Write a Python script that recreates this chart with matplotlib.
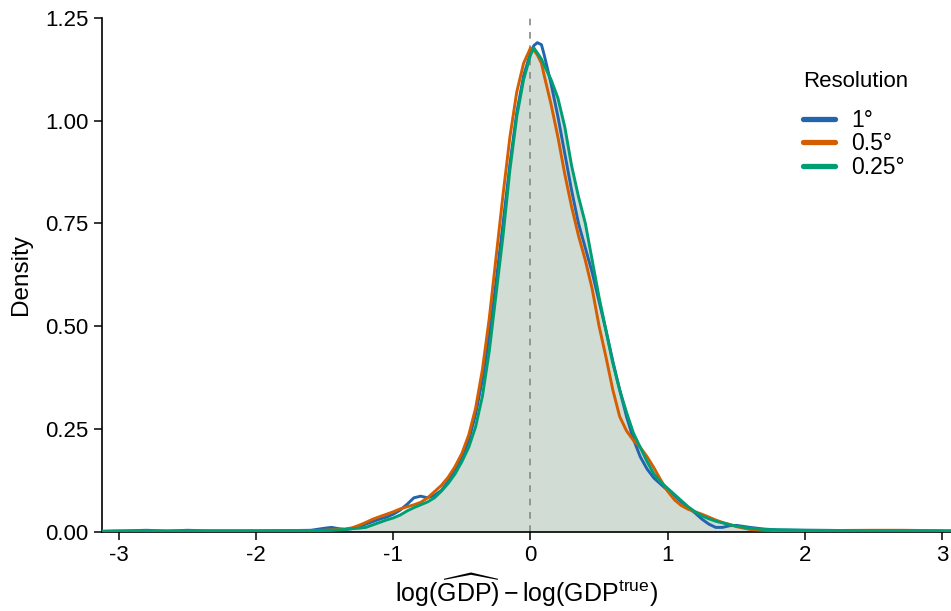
import matplotlib
matplotlib.use("Agg")
import matplotlib.pyplot as plt

# ---- data ----
x_grid = [-3.2, -3.0, -2.8, -2.65, -2.5, -2.3, -2.0, -1.8, -1.6, -1.5, -1.45, -1.4, -1.35,
          -1.3, -1.25, -1.2, -1.15, -1.1, -1.05, -1.0, -0.95, -0.9, -0.85, -0.8, -0.75,
          -0.7, -0.65, -0.6, -0.55, -0.5, -0.45, -0.4, -0.35, -0.3, -0.25, -0.2, -0.15,
          -0.1, -0.05, 0.0, 0.025, 0.05, 0.08, 0.1, 0.15, 0.2, 0.25, 0.3, 0.35, 0.4, 0.45,
          0.5, 0.55, 0.6, 0.65, 0.7, 0.75, 0.8, 0.85, 0.9, 0.95, 1.0, 1.05, 1.1, 1.15,
          1.2, 1.25, 1.3, 1.35, 1.4, 1.45, 1.5, 1.6, 1.7, 1.8, 2.0, 2.5, 2.7, 3.0, 3.2]

dens_1deg = [0.000, 0.001, 0.003, 0.001, 0.003, 0.001, 0.001, 0.002, 0.003, 0.008, 0.010, 0.007, 0.005,
             0.007, 0.011, 0.018, 0.024, 0.030, 0.035, 0.042, 0.052, 0.066, 0.082, 0.086, 0.082,
             0.088, 0.100, 0.122, 0.148, 0.180, 0.222, 0.285, 0.370, 0.480, 0.610, 0.750, 0.895,
             1.020, 1.110, 1.165, 1.183, 1.190, 1.185, 1.160, 1.090, 1.010, 0.920, 0.830, 0.750, 0.690, 0.630,
             0.560, 0.490, 0.415, 0.345, 0.280, 0.225, 0.182, 0.152, 0.130, 0.115, 0.100, 0.087, 0.072, 0.058,
             0.045, 0.030, 0.018, 0.010, 0.010, 0.014, 0.015, 0.010, 0.006, 0.004, 0.003, 0.002, 0.002, 0.001, 0.001]

dens_05deg = [0.000, 0.001, 0.001, 0.001, 0.001, 0.002, 0.002, 0.002, 0.002, 0.003, 0.004, 0.005, 0.006,
              0.009, 0.015, 0.022, 0.030, 0.036, 0.042, 0.048, 0.055, 0.060, 0.065, 0.071, 0.082,
              0.097, 0.112, 0.132, 0.158, 0.190, 0.235, 0.300, 0.395, 0.520, 0.670, 0.820, 0.960,
              1.070, 1.140, 1.177, 1.172, 1.160, 1.140, 1.110, 1.040, 0.960, 0.870, 0.790, 0.720, 0.660, 0.590,
              0.500, 0.425, 0.345, 0.280, 0.245, 0.222, 0.205, 0.182, 0.155, 0.125, 0.098, 0.077, 0.063, 0.054,
              0.048, 0.042, 0.035, 0.028, 0.022, 0.017, 0.012, 0.005, 0.003, 0.002, 0.002, 0.003, 0.003, 0.002, 0.001]

dens_025deg = [0.000, 0.001, 0.001, 0.001, 0.001, 0.001, 0.001, 0.002, 0.002, 0.003, 0.003, 0.004, 0.005,
               0.007, 0.008, 0.010, 0.016, 0.022, 0.028, 0.033, 0.040, 0.050, 0.058, 0.065, 0.072,
               0.082, 0.098, 0.117, 0.140, 0.170, 0.205, 0.255, 0.330, 0.440, 0.580, 0.720, 0.880,
               1.010, 1.100, 1.160, 1.177, 1.165, 1.150, 1.135, 1.100, 1.055, 0.985, 0.890, 0.815, 0.750, 0.660,
               0.570, 0.490, 0.410, 0.345, 0.290, 0.240, 0.205, 0.170, 0.140, 0.120, 0.105, 0.090, 0.075, 0.060,
               0.048, 0.038, 0.031, 0.025, 0.021, 0.017, 0.013, 0.008, 0.005, 0.004, 0.003, 0.002, 0.002, 0.001, 0.001]

series_labels = ["1°", "0.5°", "0.25°"]
series_colors = ["#2364ae", "#d55e00", "#009e73"]
x_ticks = [-3, -2, -1, 0, 1, 2, 3]
y_ticks = [0.00, 0.25, 0.50, 0.75, 1.00, 1.25]

# ---- styling ----
plt.rcParams['font.family'] = ['Liberation Sans', 'DejaVu Sans']
plt.rcParams['mathtext.fontset'] = 'custom'
plt.rcParams['mathtext.rm'] = 'Liberation Sans'
plt.rcParams['mathtext.it'] = 'Liberation Sans:italic'

W, H = 951, 611
fig = plt.figure(figsize=(W / 100, H / 100), dpi=100)
ax = fig.add_axes([102 / W, 79.5 / H, (W - 102) / W, 513.5 / H])

ax.fill_between(x_grid, dens_025deg, 0, color="#d0dcd4", linewidth=0, zorder=1)
ax.axvline(0, color="#888888", linestyle=(0, (4, 4)), linewidth=1.2, zorder=2)

for dens, lab, col in zip([dens_1deg, dens_05deg, dens_025deg], series_labels, series_colors):
    ax.plot(x_grid, dens, color=col, linewidth=2.1, label=lab, zorder=3,
            solid_joinstyle='round', solid_capstyle='round')

ax.set_xlim(-3.123, 3.065)
ax.set_ylim(0, 1.25)
ax.set_xticks(x_ticks)
ax.set_xticklabels([str(t) for t in x_ticks])
ax.set_yticks(y_ticks)
ax.set_yticklabels([f"{t:.2f}" for t in y_ticks])

for s in ["top", "right"]:
    ax.spines[s].set_visible(False)
for s in ["left", "bottom"]:
    ax.spines[s].set_linewidth(1.2)
    ax.spines[s].set_color("black")

ax.tick_params(axis="both", direction="out", length=5.5, width=1.1, labelsize=16,
               colors="black")
ax.tick_params(axis="y", pad=4)
ax.tick_params(axis="x", pad=4)

ax.set_ylabel("Density", fontsize=17.5, labelpad=10)
ax.set_xlabel(r"$\log(\widehat{\mathrm{GDP}}) - \log(\mathrm{GDP}^{\mathrm{true}})$",
              fontsize=18, labelpad=4)

leg = ax.legend(title="Resolution", loc="upper left",
                bbox_to_anchor=(803 / W, 1 - 71 / H), bbox_transform=fig.transFigure,
                frameon=False, fontsize=16.5, title_fontsize=16, handlelength=1.4,
                handletextpad=0.72, labelspacing=0.03, borderaxespad=0, borderpad=0)
leg._legend_box.align = "left"
leg._legend_box.sep = 12
for h in leg.legend_handles:
    h.set_linewidth(3.8)

fig.savefig("out.png", dpi=100)
